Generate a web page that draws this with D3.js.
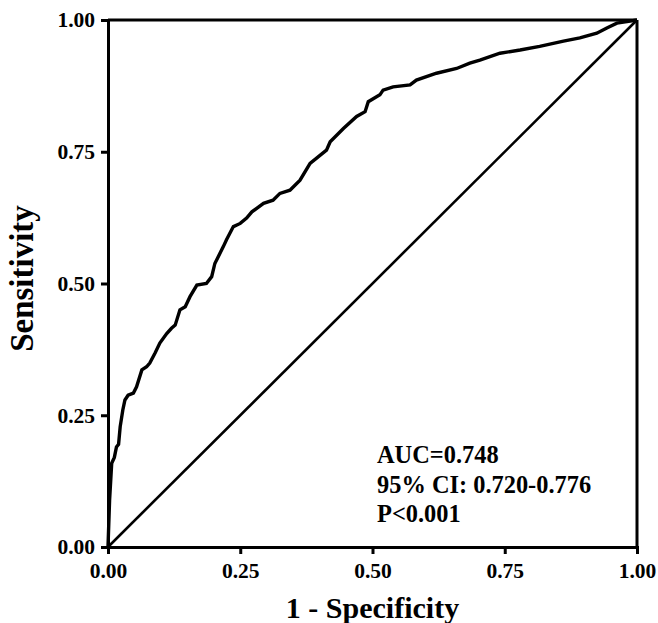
<!DOCTYPE html>
<html>
<head>
<meta charset="utf-8">
<script src="https://cdn.jsdelivr.net/npm/d3@7"></script>
<style>
  html, body { margin: 0; padding: 0; background: #fff; }
  svg text { font-family: "Liberation Serif", "Times New Roman", serif; font-weight: bold; fill: #000; }
</style>
</head>
<body>
<svg id="chart"></svg>
<script>
// 1) Data ----------------------------------------------------------
const fpr = [0, 0.003, 0.007, 0.012, 0.016, 0.020, 0.023, 0.028, 0.032, 0.038, 0.048, 0.054,
  0.064, 0.073, 0.079, 0.089, 0.098, 0.111, 0.120, 0.127, 0.136, 0.146, 0.155, 0.168,
  0.186, 0.196, 0.202, 0.218, 0.224, 0.237, 0.250, 0.262, 0.272, 0.294, 0.312, 0.325,
  0.344, 0.363, 0.382, 0.413, 0.420, 0.445, 0.470, 0.486, 0.492, 0.514, 0.520, 0.539,
  0.571, 0.583, 0.621, 0.659, 0.684, 0.703, 0.741, 0.779, 0.816, 0.861, 0.892, 0.924,
  0.943, 0.962, 0.981, 1.0];
const tpr = [0, 0.089, 0.159, 0.170, 0.190, 0.195, 0.228, 0.260, 0.279, 0.288, 0.292, 0.304,
  0.336, 0.342, 0.349, 0.368, 0.387, 0.405, 0.415, 0.421, 0.450, 0.456, 0.475, 0.497,
  0.500, 0.513, 0.538, 0.570, 0.583, 0.608, 0.614, 0.624, 0.636, 0.652, 0.658, 0.671,
  0.677, 0.696, 0.728, 0.753, 0.769, 0.794, 0.817, 0.826, 0.845, 0.858, 0.867, 0.873,
  0.877, 0.886, 0.899, 0.908, 0.918, 0.924, 0.937, 0.943, 0.950, 0.960, 0.966, 0.975,
  0.985, 0.994, 0.997, 1.0];
const ticks = [0, 0.25, 0.5, 0.75, 1];
const annotation = ['AUC=0.748', '95% CI: 0.720-0.776', 'P<0.001'];

// 2) Dimensions ----------------------------------------------------
const width = 658, height = 623;
const margin = { top: 20, right: 21, bottom: 76, left: 108 };
const svg = d3.select('#chart').attr('width', width).attr('height', height);

const x = d3.scaleLinear().domain([0, 1]).range([margin.left, width - margin.right]);
const y = d3.scaleLinear().domain([0, 1]).range([height - margin.bottom, margin.top]);

// 3) Axes ----------------------------------------------------------
const xAxis = svg.append('g')
  .attr('transform', `translate(0,${y(0)})`)
  .call(d3.axisBottom(x).tickValues(ticks).tickFormat(d3.format('.2f')).tickSizeOuter(0).tickSize(7).tickPadding(5));
const yAxis = svg.append('g')
  .attr('transform', `translate(${x(0)},0)`)
  .call(d3.axisLeft(y).tickValues(ticks).tickFormat(d3.format('.2f')).tickSizeOuter(0).tickSize(7).tickPadding(6));

[xAxis, yAxis].forEach(g => {
  g.attr('font-family', null).attr('font-size', null);
  g.select('.domain').attr('stroke', '#000').attr('stroke-width', 3);
  g.selectAll('.tick line').attr('stroke', '#000').attr('stroke-width', 3);
  g.selectAll('.tick text').attr('font-size', 21.5);
});
xAxis.selectAll('.tick text').attr('dy', '0.9em');

// top and right frame
svg.append('line')
  .attr('x1', x(0)).attr('x2', x(1)).attr('y1', y(1)).attr('y2', y(1))
  .attr('stroke', '#000').attr('stroke-width', 3);
svg.append('line')
  .attr('x1', x(1)).attr('x2', x(1)).attr('y1', y(1)).attr('y2', y(0))
  .attr('stroke', '#000').attr('stroke-width', 3);

// 4) Reference diagonal & ROC curve --------------------------------
svg.append('line')
  .attr('x1', x(0)).attr('y1', y(0)).attr('x2', x(1)).attr('y2', y(1))
  .attr('stroke', '#000').attr('stroke-width', 2.6);

const line = d3.line().x((d, i) => x(fpr[i])).y((d, i) => y(tpr[i]));
svg.append('path')
  .attr('d', line(fpr))
  .attr('fill', 'none')
  .attr('stroke', '#000')
  .attr('stroke-width', 3.4)
  .attr('stroke-linejoin', 'miter');

// 5) Titles --------------------------------------------------------
svg.append('text')
  .attr('x', (x(0) + x(1)) / 2).attr('y', 618)
  .attr('text-anchor', 'middle')
  .attr('font-size', 30)
  .text('1 - Specificity');

svg.append('text')
  .attr('transform', `translate(33,${(y(0) + y(1)) / 2 - 5}) rotate(-90)`)
  .attr('text-anchor', 'middle')
  .attr('font-size', 33)
  .text('Sensitivity');

// 6) Annotation ----------------------------------------------------
svg.append('g').selectAll('text')
  .data(annotation)
  .enter().append('text')
  .attr('x', 377)
  .attr('y', (d, i) => 463 + i * 29.5)
  .attr('font-size', 24.4)
  .text(d => d);
</script>
</body>
</html>
